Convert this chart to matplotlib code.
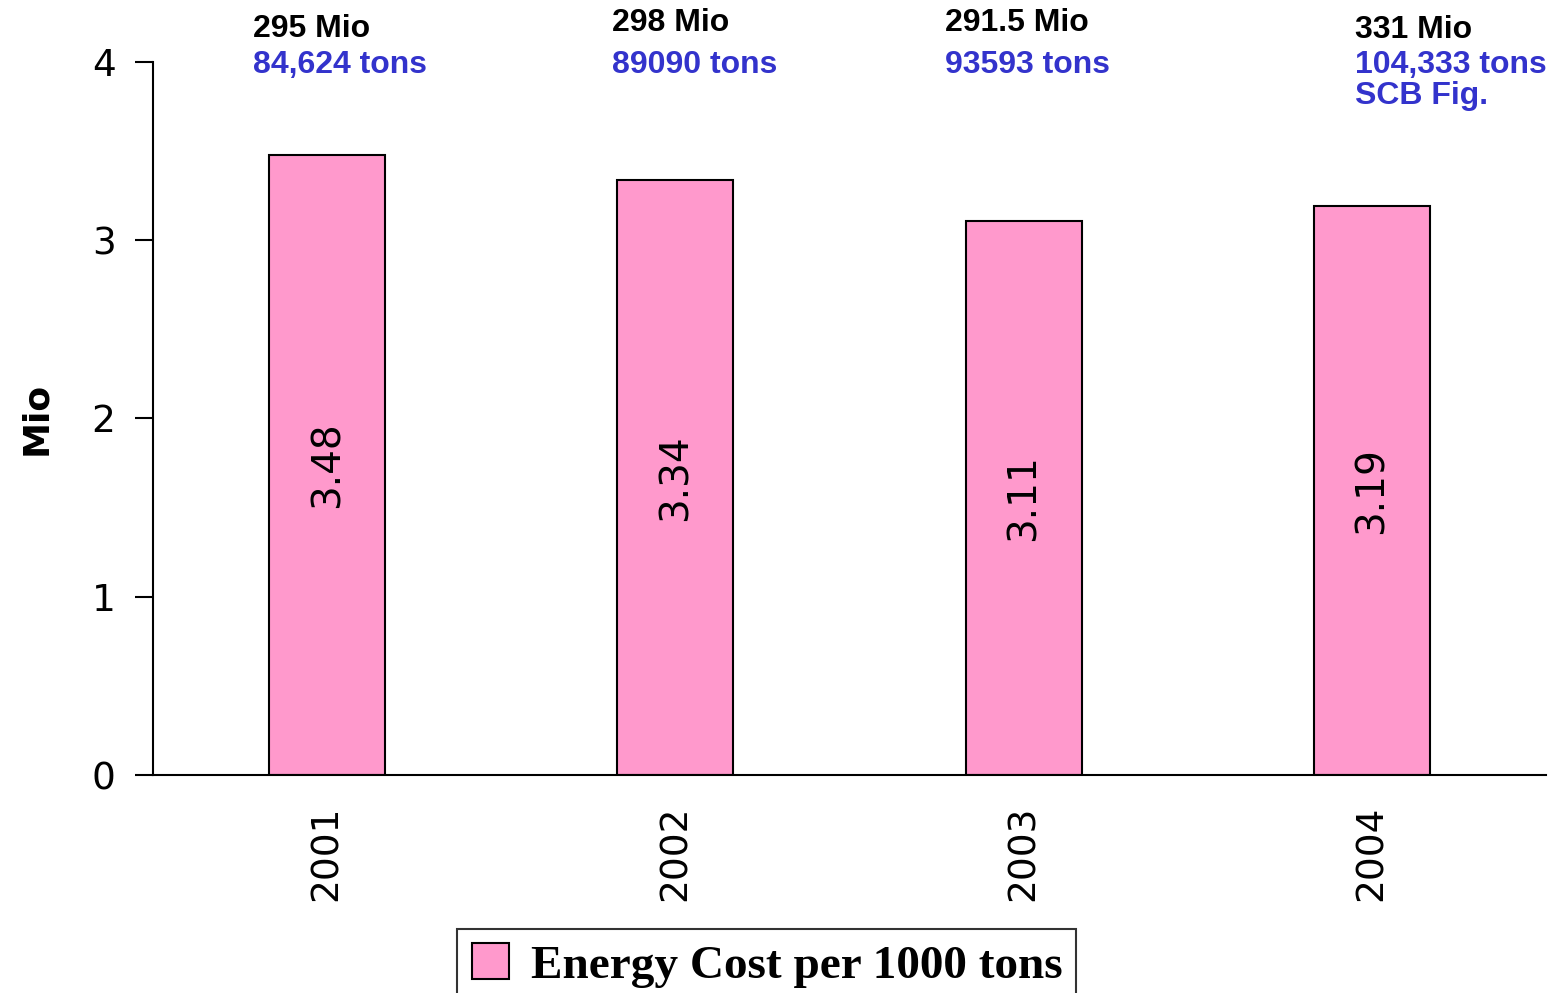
import numpy as np
import matplotlib.pyplot as plt

years = ["2001", "2002", "2003", "2004"]
cost_per_1000t = [3.48, 3.34, 3.11, 3.19]
total_cost = ["295 Mio", "298 Mio", "291.5 Mio", "331 Mio"]
tonnage = ["84,624 tons", "89090 tons", "93593 tons", "104,333 tons\nSCB Fig."]
yticks = [0, 1, 2, 3, 4]

bar_color = "#ff99cc"
blue = "#3333cc"

fig = plt.figure(figsize=(15.54, 9.93), dpi=100)
ax = fig.add_axes([0.0985, 0.2195, 0.8964, 0.7181])

x = np.arange(len(years))
bars = ax.bar(x, cost_per_1000t, width=0.333, color=bar_color,
              edgecolor="black", linewidth=1.5,
              label="Energy Cost per 1000 tons")

ax.set_xlim(-0.5, len(years) - 0.5)
ax.set_ylim(0, 4)
ax.set_yticks(yticks)
ax.set_yticklabels([str(v) for v in yticks], fontsize=27)
ax.set_xticks(x)
ax.set_xticklabels(years, rotation=90, fontsize=27)
ax.tick_params(axis="x", length=0, pad=22)
ax.tick_params(axis="y", length=13, width=1.5, direction="out", pad=14)
ax.spines["top"].set_visible(False)
ax.spines["right"].set_visible(False)
for s in ("left", "bottom"):
    ax.spines[s].set_linewidth(1.5)
ax.set_ylabel("Mio", fontsize=26, fontweight="bold", labelpad=28)

# value labels inside the bars
for xi, v in zip(x, cost_per_1000t):
    ax.text(xi, v / 2, f"{v:.2f}", rotation=90, ha="center", va="center",
            fontsize=28)

# totals and tonnage above each bar
trans = ax.get_xaxis_transform()
x_off = [-0.213, -0.181, -0.227, -0.049]
y_black = [1.035, 1.0435, 1.0435, 1.0337]
for xi, dx, yb, tot, ton in zip(x, x_off, y_black, total_cost, tonnage):
    ax.text(xi + dx, yb, tot, transform=trans, ha="left", va="baseline",
            fontsize=23, fontweight="bold", family="Liberation Sans",
            color="black")
    ax.text(xi + dx, 1.017, ton, transform=trans, ha="left", va="top",
            fontsize=23, fontweight="bold", family="Liberation Sans",
            color=blue, linespacing=1.05)

leg = fig.legend(handles=[bars], loc="upper center",
                 bbox_to_anchor=(0.4935, 0.0645), borderaxespad=0,
                 frameon=True, fancybox=False, edgecolor="black",
                 borderpad=0.3, handlelength=0.8, handleheight=0.8,
                 handletextpad=0.45,
                 prop={"family": "Liberation Serif", "weight": "bold",
                       "size": 34})
leg.get_frame().set_linewidth(1.5)

fig.savefig("out.png", dpi=100)
